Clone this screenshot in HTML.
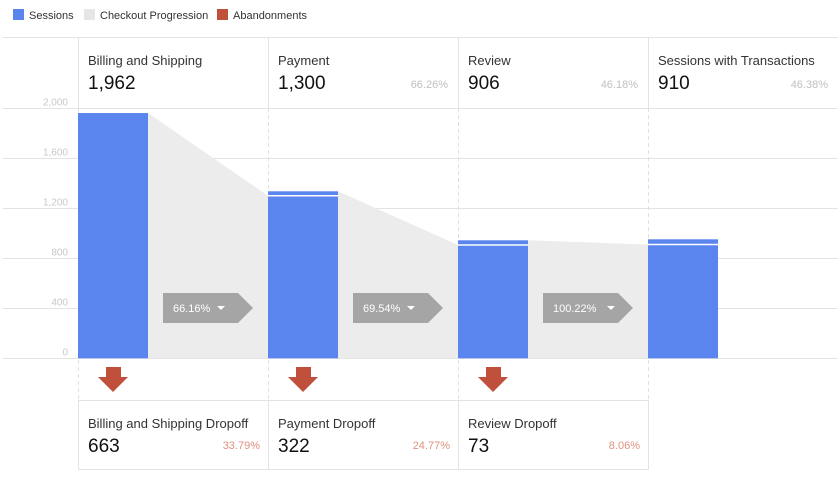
<!DOCTYPE html>
<html><head><meta charset="utf-8"><style>
body{margin:0;background:#fff;font-family:"Liberation Sans",Arial,sans-serif;}
svg{display:block}
</style></head><body>
<svg id="chart" width="840" height="477" viewBox="0 0 840 477">
<g font-size="11" fill="#333">
  <rect x="13" y="9" width="11" height="11" fill="#5a84ee"/>
  <text x="29" y="19">Sessions</text>
  <rect x="84" y="9" width="11" height="11" fill="#e6e6e6"/>
  <text x="100" y="19">Checkout Progression</text>
  <rect x="217" y="9" width="11" height="11" fill="#c0503c"/>
  <text x="233" y="19">Abandonments</text>
</g>
<g id="grid"></g>
<g id="marks"></g>
<g id="labels"></g>
</svg>
<script>
const stages = ["Billing and Shipping","Payment","Review","Sessions with Transactions"];
const sessions = [1962,1300,906,910];
const extra = [0,36,38,42];
const stagePct = ["","66.26%","46.18%","46.38%"];
const progressPct = ["66.16%","69.54%","100.22%"];
const dropNames = ["Billing and Shipping Dropoff","Payment Dropoff","Review Dropoff"];
const dropValues = [663,322,73];
const dropPct = ["33.79%","24.77%","8.06%"];
const yTicks = [0,400,800,1200,1600,2000];
const tickLabels = ["0","400","800","1,200","1,600","2,000"];

const NS="http://www.w3.org/2000/svg";
const y0=358.3, ppu=0.125;
const yS=v=>y0-v*ppu;
const colX=i=>78+i*190;
const barW=70;
function mk(tag,attrs,parent,txt){const e=document.createElementNS(NS,tag);for(const k in attrs)e.setAttribute(k,attrs[k]);if(txt!==undefined)e.textContent=txt;parent.appendChild(e);return e;}
const grid=document.getElementById('grid'),marks=document.getElementById('marks'),labels=document.getElementById('labels');
const fmt=n=>n.toLocaleString('en-US');

let hl=mk('line',{x1:3,x2:838,y1:37.5,y2:37.5,stroke:'#e3e3e3'},grid);


yTicks.forEach((t,i)=>{
  const y=Math.round(yS(t))+0.5;
  const l=mk('line',{x1:3,x2:838,y1:y,y2:y,stroke:'#e3e3e3'},grid);
  
  
  const tx=mk('text',{x:68,y:y-3,'text-anchor':'end','font-size':'10',fill:'#c8c8c8'},grid,tickLabels[i]);
  
  
});
for(let i=0;i<4;i++){
  const x=colX(i)+0.5;
  const s=mk('line',{x1:x,x2:x,y1:37,y2:108,stroke:'#e3e3e3'},grid);
  
  
  const d=mk('line',{x1:x,x2:x,y1:108,y2:400,stroke:'#e0e0e0','stroke-dasharray':'4,3'},grid);
  
  
  if(i>0&&i<3){
    const bs=mk('line',{x1:x,x2:x,y1:400,y2:470,stroke:'#e3e3e3'},grid);
    
    
  }
}
for(let i=0;i<3;i++){
  const xa=colX(i)+barW, xb=colX(i+1);
  const p=mk('polygon',{points:`${xa},${yS(sessions[i]+extra[i])} ${xb},${yS(sessions[i+1])} ${xb},${y0} ${xa},${y0}`,fill:'#ececec'},marks);
  
  
}
sessions.forEach((v,i)=>{
  const x=colX(i);
  const top=yS(v+extra[i]);
  const b=mk('rect',{x:x,y:top,width:barW,height:y0-top,fill:'#5a84ee'},marks);
  
  
  if(extra[i]>0){
    const w=mk('line',{x1:x,x2:x+barW,y1:yS(v),y2:yS(v),stroke:'#fff','stroke-width':1.5},marks);
    
    
  }
});
progressPct.forEach((p,i)=>{
  const x=colX(i)+85, y=293;
  const g=mk('g',{},marks);
  
  
  mk('polygon',{points:`${x},${y} ${x+75},${y} ${x+90},${y+15} ${x+75},${y+30} ${x},${y+30}`,fill:'#a5a5a5'},g);
  mk('text',{x:x+10,y:y+19,'font-size':'11',fill:'#fff'},g,p);
  const ax=x+(p.length>6?72:62)-4;
  mk('polygon',{points:`${ax-4},${y+13} ${ax+4},${y+13} ${ax},${y+17}`,fill:'#fff'},g);
});
stages.forEach((s,i)=>{
  const x=colX(i)+10;
  const t=mk('text',{x:x,y:65,'font-size':'13',fill:'#333'},labels,s);
  
  
  const n=mk('text',{x:x,y:89,'font-size':'19',fill:'#111'},labels,fmt(sessions[i]));
  
  
  if(stagePct[i]){
    const pc=mk('text',{x:colX(i)+180,y:88,'font-size':'11','text-anchor':'end',fill:'#c0c0c0'},labels,stagePct[i]);
    
    
  }
});
const bb=mk('rect',{x:78.5,y:400.5,width:570,height:69,fill:'none',stroke:'#e3e3e3'},labels);


dropValues.forEach((v,i)=>{
  const cx=colX(i)+35;
  const a=mk('polygon',{points:`${cx-7},367 ${cx+8},367 ${cx+8},377 ${cx+15},377 ${cx},392 ${cx-15},377 ${cx-7},377`,fill:'#c0503c'},labels);
  
  
  const x=colX(i)+10;
  const t=mk('text',{x:x,y:428,'font-size':'13',fill:'#333'},labels,dropNames[i]);
  
  
  const n=mk('text',{x:x,y:452,'font-size':'19',fill:'#111'},labels,fmt(v));
  
  
  const p=mk('text',{x:colX(i)+182,y:449,'font-size':'11','text-anchor':'end',fill:'#e0917f'},labels,dropPct[i]);
  
  
});
</script>
</body></html>
